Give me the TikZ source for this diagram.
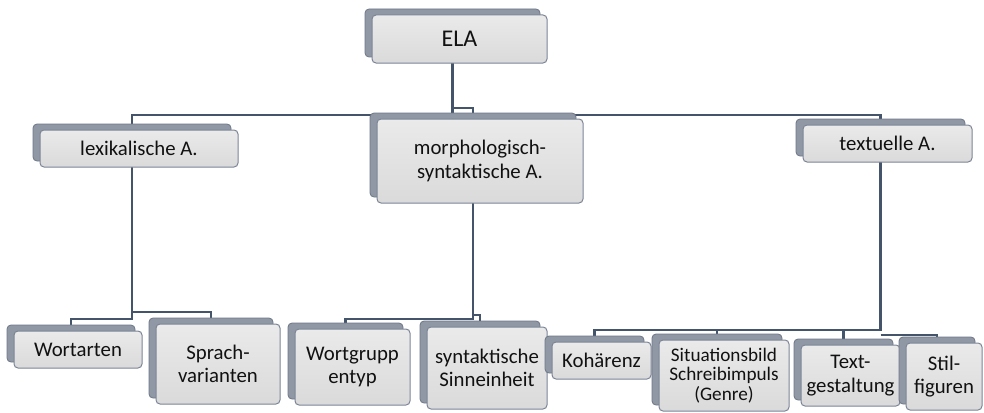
\documentclass[tikz,border=0pt]{standalone}
\usepackage{fontspec}
\setmainfont{Carlito}
\definecolor{conncol}{HTML}{44546A}
\definecolor{frontdraw}{HTML}{7C8596}
\definecolor{fronttop}{HTML}{EAEAEA}
\definecolor{frontbot}{HTML}{DADADA}
\definecolor{backfill}{HTML}{9098A5}
\definecolor{backdraw}{HTML}{6E7787}
\definecolor{txt}{HTML}{111111}
\pgfdeclarelayer{background}
\pgfsetlayers{background,main}
\tikzset{
  conn/.style={draw=conncol, line width=2.2pt},
  backbox/.style={draw=backdraw, fill=backfill, line width=0.8pt, rounded corners=4pt, inner sep=0pt, outer sep=0pt},
  frontbox/.style={draw=frontdraw, top color=fronttop, bottom color=frontbot, line width=1pt, rounded corners=4pt, inner sep=0pt, outer sep=0pt, align=center, text=txt, font=\fontsize{20.8}{23.5}\selectfont},
}
\newcommand\tbox[7][]{%
  \node[backbox, minimum width={(#5-#3)*1pt}, minimum height={(#6-#4)*1pt}] (#2-s) at ({(#3+#5)/2-7},{(#4+#6)/2-6}) {};
  \node[frontbox, minimum width={(#5-#3)*1pt}, minimum height={(#6-#4)*1pt}, #1] (#2) at ({(#3+#5)/2},{(#4+#6)/2}) {#7};
}
\begin{document}
\begin{tikzpicture}[x=1pt, y=-1pt]
\useasboundingbox (0,0) rectangle (984,412);
\tbox[font=\fontsize{24}{26}\selectfont]{ela}{372}{15}{547}{63}{ELA}
\tbox{lex}{40}{130}{238}{167}{lexikalische A.}
\tbox{morph}{377}{119}{583}{203}{morphologisch-\\syntaktische A.}
\tbox{tex}{803}{125}{972}{162}{textuelle A.}
\tbox{wort}{14}{331}{142}{368}{Wortarten}
\tbox{spr}{156}{324}{280}{404}{Sprach-\\varianten}
\tbox{wg}{295}{329}{410}{405}{Wortgrupp\\entyp}
\tbox{syn}{427}{327}{547}{409}{syntaktische\\Sinneinheit}
\tbox{koh}{552}{342}{651}{379}{Kohärenz}
\tbox[font=\fontsize{19.2}{19.5}\selectfont]{sit}{659}{340}{789}{411}{Situationsbild\\Schreibimpuls\\(Genre)}
\tbox{txg}{801}{345}{900}{406}{Text-\\gestaltung}
\tbox{stil}{906}{343}{982}{410}{Stil-\\figuren}
\coordinate (tbus) at (0,115);
\coordinate (mbump) at (0,108);
\coordinate (lbusa) at (0,319);
\coordinate (lbusb) at (0,312);
\coordinate (mbusa) at (0,319);
\coordinate (mbusb) at (0,315);
\coordinate (tbusy) at (0,330);
\coordinate (sbusy) at (0,335);
\begin{pgfonlayer}{background}
\draw[conn] (ela-s.south) -- (ela-s.south |- tbus);
\draw[conn] (lex-s.north) -- (lex-s.north |- tbus) -- (tex-s.north |- tbus) -- (tex-s.north);
\draw[conn] (ela-s.south |- mbump) -- (morph-s.north |- mbump) -- (morph-s.north);
\draw[conn] (lex-s.south) -- (lex-s.south |- lbusa) -- (wort-s.north |- lbusa) -- (wort-s.north);
\draw[conn] (lex-s.south |- lbusb) -- (spr-s.north |- lbusb) -- (spr-s.north);
\draw[conn] (morph-s.south) -- (morph-s.south |- mbusa) -- (wg-s.north |- mbusa) -- (wg-s.north);
\draw[conn] (morph-s.south |- mbusb) -- (syn-s.north |- mbusb) -- (syn-s.north);
\draw[conn] (tex-s.south) -- (tex-s.south |- tbusy) -- (koh-s.north |- tbusy) -- (koh-s.north);
\draw[conn] (sit-s.north |- tbusy) -- (sit-s.north);
\draw[conn] (txg-s.north |- tbusy) -- (txg-s.north);
\draw[conn] (tex-s.south |- sbusy) -- (stil-s.north |- sbusy) -- (stil-s.north);
\end{pgfonlayer}
\end{tikzpicture}
\end{document}
